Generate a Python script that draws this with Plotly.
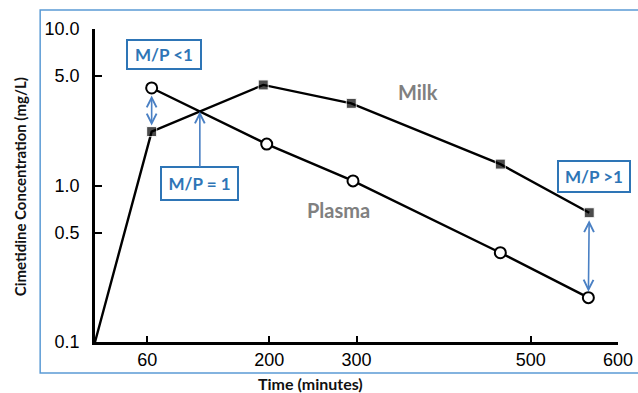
import numpy as np
import plotly.graph_objects as go

# ---- data ----
time_milk = [0, 65, 193, 294, 465, 567]
milk = [0.1, 2.21, 4.39, 3.35, 1.37, 0.67]
time_plasma = [65, 197, 296, 465, 566]
plasma = [4.2, 1.84, 1.07, 0.372, 0.192]
x_ticks = [60, 200, 300, 500, 600]
y_ticks = [0.1, 0.5, 1.0, 5.0, 10.0]
y_tick_text = ["0.1", "0.5", "1.0", "5.0", "10.0"]

# horizontal compensation factor for the viewer
SX = 645 / 638
W, H = 645, 393
ML, MR, MT, MB = 95, 20, 29, 51
PW, PH = W - ML - MR, H - MT - MB


def px(x):
    return (x * SX - ML) / PW


def py(y):
    return (H - MB - y) / PH


BLUE = "#2E75B6"
ARROW = "#4A80C4"
FRAME = "#5B9BD5"
GRAY = "#808080"

# intersection of milk segment 1->2 and plasma segment 0->1 (log space)
x1, y1 = time_milk[1], np.log10(milk[1])
x2, y2 = time_milk[2], np.log10(milk[2])
x3, y3 = time_plasma[0], np.log10(plasma[0])
x4, y4 = time_plasma[1], np.log10(plasma[1])
den = (x1 - x2) * (y3 - y4) - (y1 - y2) * (x3 - x4)
t = ((x1 - x3) * (y3 - y4) - (y1 - y3) * (x3 - x4)) / den
xi = x1 + t * (x2 - x1)
yi = y1 + t * (y2 - y1)

fig = go.Figure()
fig.add_trace(go.Scatter(
    x=time_milk, y=milk, mode="lines+markers",
    line=dict(color="black", width=2.4),
    marker=dict(symbol="square", size=[0] + [10] * (len(milk) - 1), color="black"),
    cliponaxis=False, showlegend=False))
fig.add_trace(go.Scatter(
    x=time_plasma, y=plasma, mode="lines+markers",
    line=dict(color="black", width=2.4),
    marker=dict(symbol="circle", size=11, color="white",
                line=dict(color="black", width=2)),
    cliponaxis=False, showlegend=False))

tickfont = dict(family="Liberation Sans, Arial, sans-serif", size=18, color="black")
fig.update_xaxes(range=[0, 600], tickvals=x_ticks, ticks="inside", ticklen=6,
                 tickwidth=2, tickcolor="black", showline=True, linewidth=2.5,
                 linecolor="black", showgrid=False, zeroline=False,
                 tickfont=tickfont, ticklabelstandoff=0)
fig.update_yaxes(type="log", range=[-1, 1], tickvals=y_ticks, ticktext=y_tick_text,
                 ticks="inside", ticklen=7, tickwidth=2, tickcolor="black",
                 showline=True, linewidth=2.5, linecolor="black", showgrid=False,
                 zeroline=False, tickfont=tickfont, ticklabelstandoff=9)

box_font = dict(family="Lato, sans-serif", size=17, color=BLUE, weight="bold")
label_font = dict(family="Lato, sans-serif", size=20, color=GRAY, weight="bold")
title_font = dict(family="Lato, sans-serif", size=15, color="#111111", weight="bold")

ann = []


def label(text, x, y, font, **kw):
    d = dict(text=text, xref="paper", yref="paper", x=px(x), y=py(y),
             showarrow=False, font=font, xanchor="center", yanchor="middle")
    d.update(kw)
    ann.append(d)


label("M/P <1", 163, 54, box_font, bordercolor=BLUE, borderwidth=2,
      borderpad=3, bgcolor="white", width=66, height=21)
label("M/P >1", 594, 176, box_font, bordercolor=BLUE, borderwidth=2,
      borderpad=3, bgcolor="white", width=64, height=23)
ann.append(dict(text="M/P = 1", xref="x", yref="y", x=xi, y=yi,
                showarrow=True, ax=0, ay=72, arrowhead=5, arrowsize=1.2,
                arrowwidth=1.6, arrowcolor=ARROW, standoff=0,
                font=box_font, bordercolor=BLUE, borderwidth=2,
                borderpad=3, bgcolor="white", width=69, height=25))
# double arrows
ann.append(dict(text="", xref="x", yref="y", x=time_milk[1], y=np.log10(milk[1]),
                axref="x", ayref="y", ax=time_plasma[0], ay=np.log10(plasma[0]),
                showarrow=True, arrowside="end+start", arrowhead=5, startarrowhead=5,
                arrowsize=1.2, startarrowsize=1.2, arrowwidth=1.6, arrowcolor=ARROW,
                standoff=6, startstandoff=6))
ann.append(dict(text="", xref="x", yref="y", x=time_plasma[-1], y=np.log10(plasma[-1]),
                axref="x", ayref="y", ax=time_milk[-1], ay=np.log10(milk[-1]),
                showarrow=True, arrowside="end+start", arrowhead=5, startarrowhead=5,
                arrowsize=1.2, startarrowsize=1.2, arrowwidth=1.6, arrowcolor=ARROW,
                standoff=6, startstandoff=6))
label("Milk", 418, 92, label_font)
label("Plasma", 338, 210, label_font)
label("Cimetidine Concentration (mg/L)", 19, 187, title_font, textangle=-90)
label("Time (minutes)", 310, 383, dict(title_font, size=16))

fig.update_layout(
    width=W, height=H, autosize=False, margin=dict(l=ML, r=MR, t=MT, b=MB),
    paper_bgcolor="white", plot_bgcolor="white", annotations=ann,
    shapes=[dict(type="rect", xref="paper", yref="paper",
                 x0=px(39), x1=px(650), y0=py(373), y1=py(10),
                 line=dict(color=FRAME, width=1.5), layer="below")])

fig.write_html("out.html", config={"responsive": False, "displayModeBar": False})

# remove the browser's default page margin so the figure sits at the top-left
with open("out.html", "r", encoding="utf-8") as f:
    html = f.read()
html = html.replace(
    "<head>",
    "<head><style>html,body{margin:0;padding:0;overflow:hidden;}</style>", 1)
with open("out.html", "w", encoding="utf-8") as f:
    f.write(html)
